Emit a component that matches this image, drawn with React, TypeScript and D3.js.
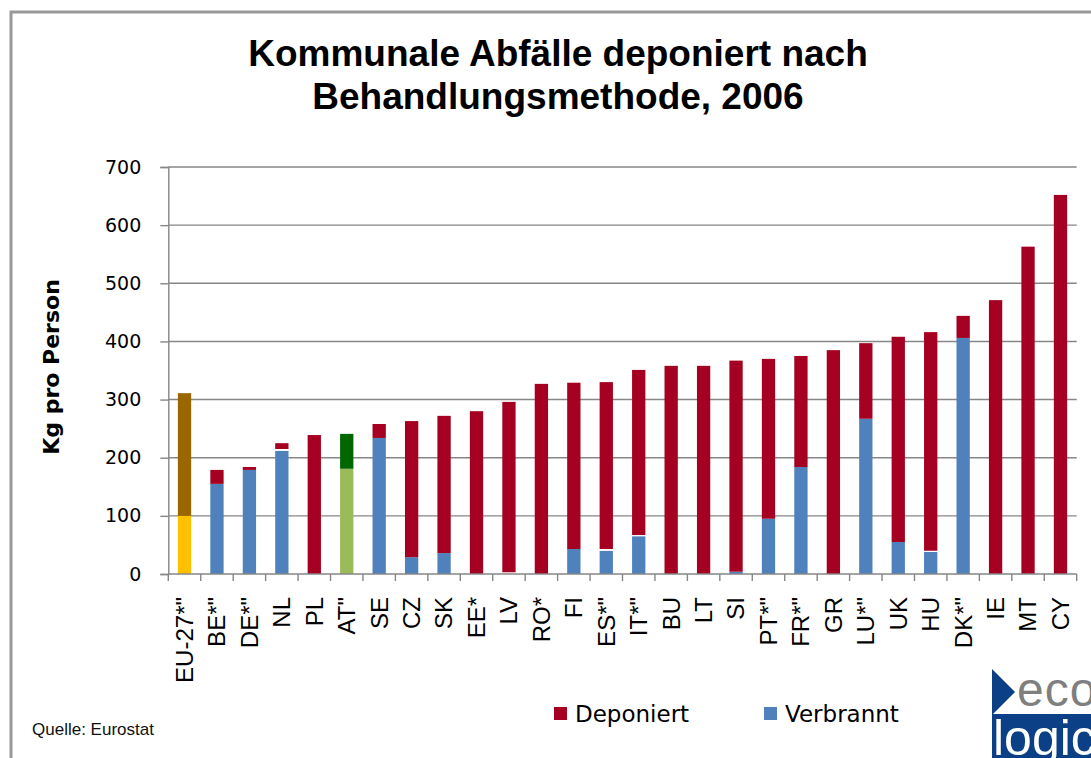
import React, { useEffect, useRef } from 'react';
import * as d3 from 'd3';

// values (kg per person, 2006)
const categories = ['EU-27*"', 'BE*"', 'DE*"', 'NL', 'PL', 'AT"', 'SE', 'CZ', 'SK', 'EE*', 'LV', 'RO*', 'FI', 'ES*"', 'IT*"', 'BU', 'LT', 'SI', 'PT*"', 'FR*"', 'GR', 'LU*"', 'UK', 'HU', 'DK*"', 'IE', 'MT', 'CY'];
const verbrannt = [100, 155, 179, 212, 0, 181, 234, 29, 36, 0, 0, 0, 43, 40, 65, 0, 0, 4, 95, 184, 0, 267, 55, 38, 406, 0, 0, 0];
const sonstige = [0, 0, 0, 3, 0, 0, 0, 0, 0, 0, 3, 0, 0, 3, 2, 0, 0, 0, 0, 0, 0, 0, 0, 2, 0, 0, 0, 0];
const deponiert = [211, 24, 5, 10, 239, 60, 24, 234, 236, 280, 293, 327, 286, 287, 284, 358, 358, 363, 275, 191, 385, 130, 353, 376, 38, 471, 563, 652];
const yTicks = [0, 100, 200, 300, 400, 500, 600, 700];

const keys = ['Verbrannt', 'Sonstige', 'Deponiert'];
const colors: { [k: string]: string } = { Verbrannt: '#4F81BD', Sonstige: '#FFFFFF', Deponiert: '#A50021' };
// EU and AT are highlighted with their own colours
const special: { [k: string]: string[] } = {
  'EU-27*"': ['#FFC000', '#FFFFFF', '#996600'],
  'AT"': ['#9BBB59', '#FFFFFF', '#006600'],
};

export default function App() {
  const ref = useRef<SVGSVGElement>(null);

  useEffect(() => {
    const svg = d3.select(ref.current);
    svg.selectAll('*').remove();

    const left = 168.3, right = 1076.7, top = 167, bottom = 574;
    const tickFont = 'DejaVu Sans, Verdana, sans-serif';
    const labelFont = 'Liberation Sans, Arial, sans-serif';

    svg.append('rect').attr('width', 1091).attr('height', 758).attr('fill', '#fff');
    svg.append('rect')
      .attr('x', 11).attr('y', 12).attr('width', 1200).attr('height', 900)
      .attr('fill', 'none').attr('stroke', '#999').attr('stroke-width', 3);

    // title
    const title = svg.append('text')
      .attr('text-anchor', 'middle')
      .attr('font-family', labelFont).attr('font-weight', 'bold').attr('font-size', 37);
    title.append('tspan').attr('x', 558).attr('y', 66).text('Kommunale Abfälle deponiert nach');
    title.append('tspan').attr('x', 558).attr('y', 109).text('Behandlungsmethode, 2006');

    const x = d3.scaleBand().domain(categories).range([left, right]).paddingInner(0.59).paddingOuter(0.295);
    const y = d3.scaleLinear().domain([0, 700]).range([bottom, top]);

    // gridlines
    svg.append('g').selectAll('line').data(yTicks.slice(1)).join('line')
      .attr('x1', left).attr('x2', right)
      .attr('y1', d => y(d)).attr('y2', d => y(d))
      .attr('stroke', '#868686').attr('stroke-width', 1.4);

    // y axis
    const yAxis = svg.append('g').attr('transform', `translate(${left},0)`)
      .call(d3.axisLeft(y).tickValues(yTicks).tickSize(8).tickPadding(19));
    yAxis.select('.domain').attr('stroke', '#868686').attr('stroke-width', 1.4);
    yAxis.selectAll('.tick line').attr('stroke', '#868686').attr('stroke-width', 1.4);
    yAxis.selectAll('.tick text').attr('font-family', tickFont).attr('font-size', 19).attr('fill', '#000');

    svg.append('text')
      .attr('transform', 'translate(59,367) rotate(-90)')
      .attr('text-anchor', 'middle')
      .attr('font-family', tickFont).attr('font-weight', 'bold').attr('font-size', 22)
      .text('Kg pro Person');

    // stacked bars
    const rows = categories.map((c, i) => ({ cat: c, Verbrannt: verbrannt[i], Sonstige: sonstige[i], Deponiert: deponiert[i] }));
    const stacked = d3.stack<any>().keys(keys)(rows);
    stacked.forEach((layer, k) => {
      svg.append('g').selectAll('rect').data(layer).join('rect')
        .attr('x', d => x(d.data.cat)!)
        .attr('width', x.bandwidth())
        .attr('y', d => y(d[1]))
        .attr('height', d => y(d[0]) - y(d[1]))
        .attr('fill', d => (special[d.data.cat] ? special[d.data.cat][k] : colors[layer.key]));
    });

    // x axis with ticks between categories
    svg.append('line')
      .attr('x1', left).attr('x2', right).attr('y1', bottom).attr('y2', bottom)
      .attr('stroke', '#868686').attr('stroke-width', 1.4);
    svg.append('g').selectAll('line').data(d3.range(categories.length + 1)).join('line')
      .attr('x1', i => left + i * x.step()).attr('x2', i => left + i * x.step())
      .attr('y1', bottom).attr('y2', bottom + 7)
      .attr('stroke', '#868686').attr('stroke-width', 1.4);
    svg.append('g').selectAll('text').data(categories).join('text')
      .attr('transform', d => `translate(${x(d)! + x.bandwidth() / 2},597) rotate(-90)`)
      .attr('text-anchor', 'end').attr('dy', '0.35em')
      .attr('font-family', labelFont).attr('font-size', 24)
      .text(d => d);

    // legend
    const legend = [
      { name: 'Deponiert', color: colors.Deponiert, x: 554 },
      { name: 'Verbrannt', color: colors.Verbrannt, x: 764 },
    ];
    const lg = svg.append('g').selectAll('g').data(legend).join('g')
      .attr('transform', d => `translate(${d.x},707)`);
    lg.append('rect').attr('width', 13).attr('height', 13).attr('fill', d => d.color);
    lg.append('text').attr('x', 21).attr('y', 15)
      .attr('font-family', tickFont).attr('font-size', 23)
      .text(d => d.name);

    svg.append('text').attr('x', 32).attr('y', 735)
      .attr('font-family', labelFont).attr('font-size', 17).attr('fill', '#111')
      .text('Quelle: Eurostat');

    // logo (cut off by the right edge, like in the picture)
    const logo = svg.append('g');
    logo.append('path').attr('d', 'M992,669 L1015,692 L992,715 Z').attr('fill', '#0B3F86');
    logo.append('rect').attr('x', 992).attr('y', 714).attr('width', 110).attr('height', 50).attr('fill', '#0B3F86');
    logo.append('text').attr('x', 1017).attr('y', 706)
      .attr('font-family', labelFont).attr('font-size', 48).attr('letter-spacing', 1).attr('fill', '#7F7F7F').text('eco');
    logo.append('text').attr('x', 993).attr('y', 755)
      .attr('font-family', labelFont).attr('font-size', 50).attr('fill', '#fff').text('logic');
  }, []);

  return (
    <svg ref={ref} width={1091} height={758} style={{ position: 'absolute', left: 0, top: 0, display: 'block' }} />
  );
}
